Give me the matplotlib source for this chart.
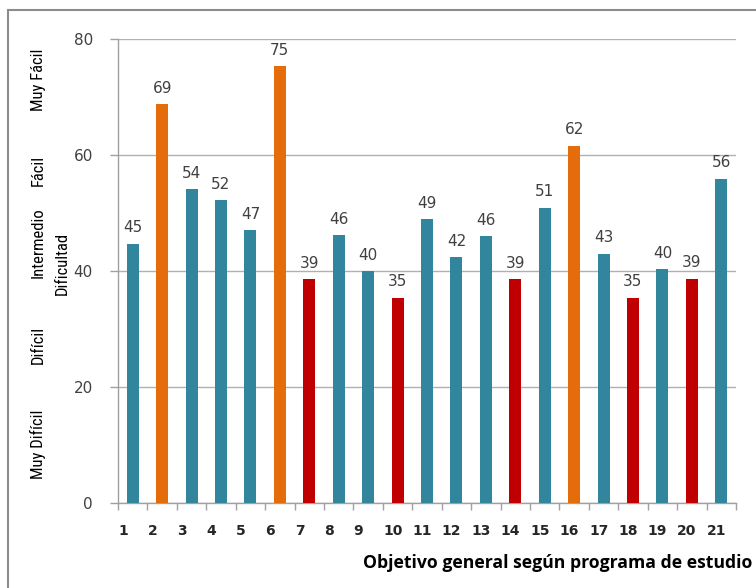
import matplotlib
matplotlib.use("Agg")
import matplotlib.pyplot as plt
from matplotlib.patches import Rectangle
from matplotlib.ticker import FixedLocator, NullFormatter
from matplotlib import font_manager
import matplotlib.transforms as mtransforms

categories = [str(i) for i in range(1, 22)]
values = [44.7, 68.8, 54.1, 52.2, 47.0, 75.3, 38.6, 46.2, 40.0, 35.4, 48.9,
          42.4, 46.0, 38.6, 50.9, 61.6, 43.0, 35.4, 40.3, 38.7, 55.9]
labels = [45, 69, 54, 52, 47, 75, 39, 46, 40, 35, 49, 42, 46, 39, 51, 62, 43, 35, 40, 39, 56]
groups = ["m", "f", "m", "m", "m", "f", "d", "m", "m", "d", "m",
          "m", "m", "d", "m", "f", "m", "d", "m", "d", "m"]
palette = {"m": "#31859C", "f": "#E46C0A", "d": "#C00000"}
level_names = ["Muy Difícil", "Difícil", "Intermedio", "Fácil", "Muy Fácil"]
yticks = [0, 20, 40, 60, 80]
xlabel = "Objetivo general según programa de estudio"

available = {f.name for f in font_manager.fontManager.ttflist}
narrow = "Liberation Sans"
for cand in ["Liberation Sans Narrow", "Roboto Condensed", "Open Sans Condensed",
             "Noto Sans Condensed", "Liberation Sans"]:
    if cand in available:
        narrow = cand
        break

W, H = 756, 588
fig = plt.figure(figsize=(W / 100, H / 100), dpi=100)
ax = fig.add_axes([118 / W, 1 - 503 / H, (736 - 118) / W, (503 - 39) / H])

x = list(range(1, len(categories) + 1))
ax.bar(x, values, width=0.41, color=[palette[g] for g in groups], zorder=3)

for xi, v, lab in zip(x, values, labels):
    ax.annotate(str(lab), (xi, v), xytext=(0, 6), textcoords="offset points",
                ha="center", va="bottom", fontsize=11, color="#404040",
                family="DejaVu Sans")

ax.set_xlim(0.5, 21.5)
ax.set_ylim(0, 80)
ax.set_yticks(yticks)
ax.set_yticklabels([str(t) for t in yticks], fontsize=11, color="#404040",
                   family="DejaVu Sans")
ax.yaxis.grid(True, color="#B0B0B0", lw=1, zorder=0)
ax.tick_params(axis="y", direction="out", length=6, width=1, color="#A0A0A0", pad=12)

ax.set_xticks(x)
ax.set_xticklabels(categories, fontsize=10, family="DejaVu Sans",
                   fontweight="bold", color="#262626")
ax.tick_params(axis="x", which="major", length=0, pad=15)
shift = mtransforms.ScaledTranslation(-14.5 / 100, 0, fig.dpi_scale_trans)
for t in ax.get_xticklabels():
    t.set_horizontalalignment("left")
    t.set_transform(t.get_transform() + shift)
ax.xaxis.set_minor_locator(FixedLocator([i + 0.5 for i in range(0, 22)]))
ax.xaxis.set_minor_formatter(NullFormatter())
ax.tick_params(axis="x", which="minor", direction="out", length=5, width=1, color="#A0A0A0")

for s in ["top", "right"]:
    ax.spines[s].set_visible(False)
for s in ["left", "bottom"]:
    ax.spines[s].set_color("#A0A0A0")
    ax.spines[s].set_linewidth(1)

fig.text(752 / W, 1 - 563 / H, xlabel, ha="right", va="center", fontsize=12.7,
         fontweight="bold", family="Open Sans", color="#000000")

# Difficulty level labels on the left
level_pos = [444, 345, 243, 170, 80]
for name, py in zip(level_names, level_pos):
    fig.text(38 / W, 1 - py / H, name, rotation=90, ha="center", va="center",
             fontsize=12, family=narrow, color="#000000")
fig.text(62 / W, 1 - 263 / H, "Dificultad", rotation=90, ha="center", va="center",
         fontsize=12, family=narrow, color="#000000")

# outer frame
fig.patches.append(Rectangle((8 / W, -0.05), 1.2, 1 - 10 / H + 0.05,
                             transform=fig.transFigure, fill=False,
                             edgecolor="#8C8C8C", lw=1.5))

fig.savefig("out.png", dpi=100)
